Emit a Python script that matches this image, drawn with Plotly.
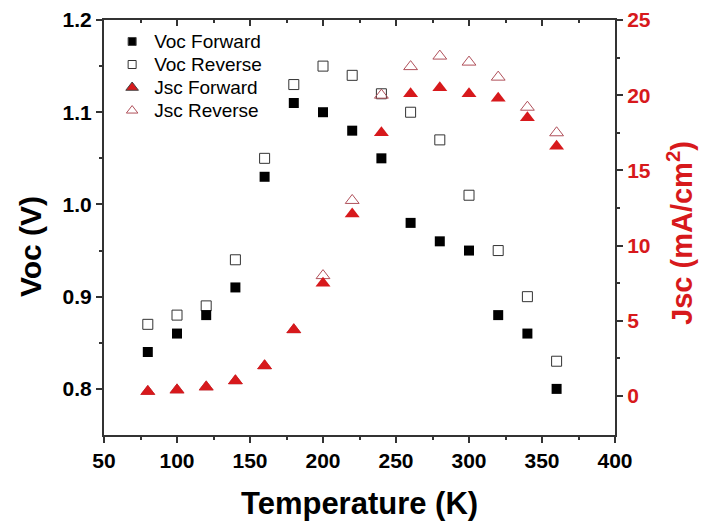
import plotly.graph_objects as go

temperature = [80, 100, 120, 140, 160, 180, 200, 220, 240, 260, 280, 300, 320, 340, 360]
voc_forward = [0.84, 0.86, 0.88, 0.91, 1.03, 1.11, 1.10, 1.08, 1.05, 0.98, 0.96, 0.95, 0.88, 0.86, 0.80]
voc_reverse = [0.87, 0.88, 0.89, 0.94, 1.05, 1.13, 1.15, 1.14, 1.12, 1.10, 1.07, 1.01, 0.95, 0.90, 0.83]
jsc_forward = [0.3, 0.4, 0.6, 1.0, 2.0, 4.4, 7.5, 12.1, 17.5, 20.1, 20.5, 20.1, 19.8, 18.5, 16.6]
jsc_reverse = [0.3, 0.4, 0.6, 1.0, 2.0, 4.4, 8.0, 13.0, 20.0, 21.9, 22.6, 22.2, 21.2, 19.2, 17.5]
series_names = ["Voc Forward", "Voc Reverse", "Jsc Forward", "Jsc Reverse"]

RED = "#d7191c"
FONT = "Liberation Sans, Arial, sans-serif"

fig = go.Figure()
fig.add_trace(go.Scatter(x=temperature, y=jsc_reverse, mode="markers", name=series_names[3],
                         yaxis="y2", showlegend=False,
                         marker=dict(symbol="triangle-up-open", size=12, color="#b0505a", line=dict(width=1))))
fig.add_trace(go.Scatter(x=temperature, y=jsc_forward, mode="markers", name=series_names[2],
                         yaxis="y2", showlegend=False,
                         marker=dict(symbol="triangle-up", size=13, color=RED)))
fig.add_trace(go.Scatter(x=temperature, y=voc_reverse, mode="markers", name=series_names[1],
                         showlegend=False,
                         marker=dict(symbol="square-open", size=10, color="#333333", line=dict(width=1))))
fig.add_trace(go.Scatter(x=temperature, y=voc_forward, mode="markers", name=series_names[0],
                         showlegend=False,
                         marker=dict(symbol="square", size=10, color="black")))

# legend entries in reference order
for nm, sym, col, sz, ax in [(series_names[0], "square", "black", 8, "y"),
                             (series_names[1], "square-open", "#333333", 8, "y"),
                             (series_names[2], "triangle-up", RED, 11, "y2"),
                             (series_names[3], "triangle-up-open", "#b0505a", 10, "y2")]:
    fig.add_trace(go.Scatter(x=[None], y=[None], mode="markers",
                             name='<span style="font-size:19px">' + nm + '</span>', yaxis=ax,
                             marker=dict(symbol=sym, size=sz, color=col, line=dict(width=1))))

# dummy trace for top mirrored axis
fig.add_trace(go.Scatter(x=[None], y=[None], xaxis="x2", showlegend=False, hoverinfo="skip"))

TICKS_X = [50, 100, 150, 200, 250, 300, 350, 400]
MINOR_X = [75, 125, 175, 225, 275, 325, 375]

fig.update_layout(
    width=712, height=526,
    margin=dict(l=96, r=105, t=12, b=99, autoexpand=False),
    paper_bgcolor="white", plot_bgcolor="white",
    font=dict(family=FONT, color="black"),
    showlegend=True,
    legend=dict(x=0.012, y=0.988, xanchor="left", yanchor="top", bgcolor="rgba(0,0,0,0)",
                font=dict(size=15.4, family=FONT), tracegroupgap=0, itemsizing="trace", itemwidth=34),
    xaxis=dict(range=[50, 400], tickvals=TICKS_X, automargin=False,
               ticks="outside", ticklen=6, tickwidth=1.5, tickcolor="#333",
               showline=True, linecolor="#333", linewidth=2, showgrid=False, zeroline=False,
               minor=dict(tickvals=MINOR_X, ticks="outside", ticklen=3, tickcolor="#333"),
               tickfont=dict(size=21, family=FONT, weight="bold")),
    xaxis2=dict(range=[50, 400], overlaying="x", side="top", tickvals=TICKS_X,
                automargin=False,
                ticks="inside", ticklen=6, tickwidth=1.5, tickcolor="#333", showticklabels=False,
                showline=True, linecolor="#333", linewidth=2, showgrid=False, zeroline=False,
                minor=dict(tickvals=MINOR_X, ticks="inside", ticklen=3, tickcolor="#333")),
    yaxis=dict(range=[0.75, 1.2], tickvals=[0.8, 0.9, 1.0, 1.1, 1.2], ticktext=["0.8", "0.9", "1.0", "1.1", "1.2"],
               automargin=False,
               ticks="outside", ticklen=6, tickwidth=1.5, tickcolor="#333",
               showline=True, linecolor="#333", linewidth=2, showgrid=False, zeroline=False,
               minor=dict(tickvals=[0.85, 0.95, 1.05, 1.15], ticks="outside", ticklen=3, tickcolor="#333"),
               tickfont=dict(size=21, family=FONT, weight="bold")),
    yaxis2=dict(range=[-2.6, 25], overlaying="y", side="right", tickvals=[0, 5, 10, 15, 20, 25],
                automargin=False,
                ticks="outside", ticklen=6, tickwidth=1.5, tickcolor="#333",
                showline=True, linecolor="#333", linewidth=2, showgrid=False, zeroline=False,
                minor=dict(tickvals=[2.5, 7.5, 12.5, 17.5, 22.5], ticks="outside", ticklen=3, tickcolor="#333"),
                tickfont=dict(size=21, family=FONT, color=RED, weight="bold")),
    annotations=[
        dict(text="<b>Temperature (K)</b>", xref="paper", yref="paper", x=0.5, y=0,
             xanchor="center", yanchor="middle", yshift=-68, showarrow=False,
             font=dict(size=31, family=FONT, color="black")),
        dict(text="<b>Voc (V)</b>", xref="paper", yref="paper", x=0, y=0.453,
             xanchor="center", yanchor="middle", xshift=-74, textangle=-90, showarrow=False,
             font=dict(size=30, family=FONT, color="black")),
        dict(text="<b>Jsc (mA/cm<sup>2</sup>)</b>", xref="paper", yref="paper", x=1, y=0.487,
             xanchor="center", yanchor="middle", xshift=65, textangle=-90, showarrow=False,
             font=dict(size=29, family=FONT, color=RED)),
    ],
)

fig.write_html("out.html")
